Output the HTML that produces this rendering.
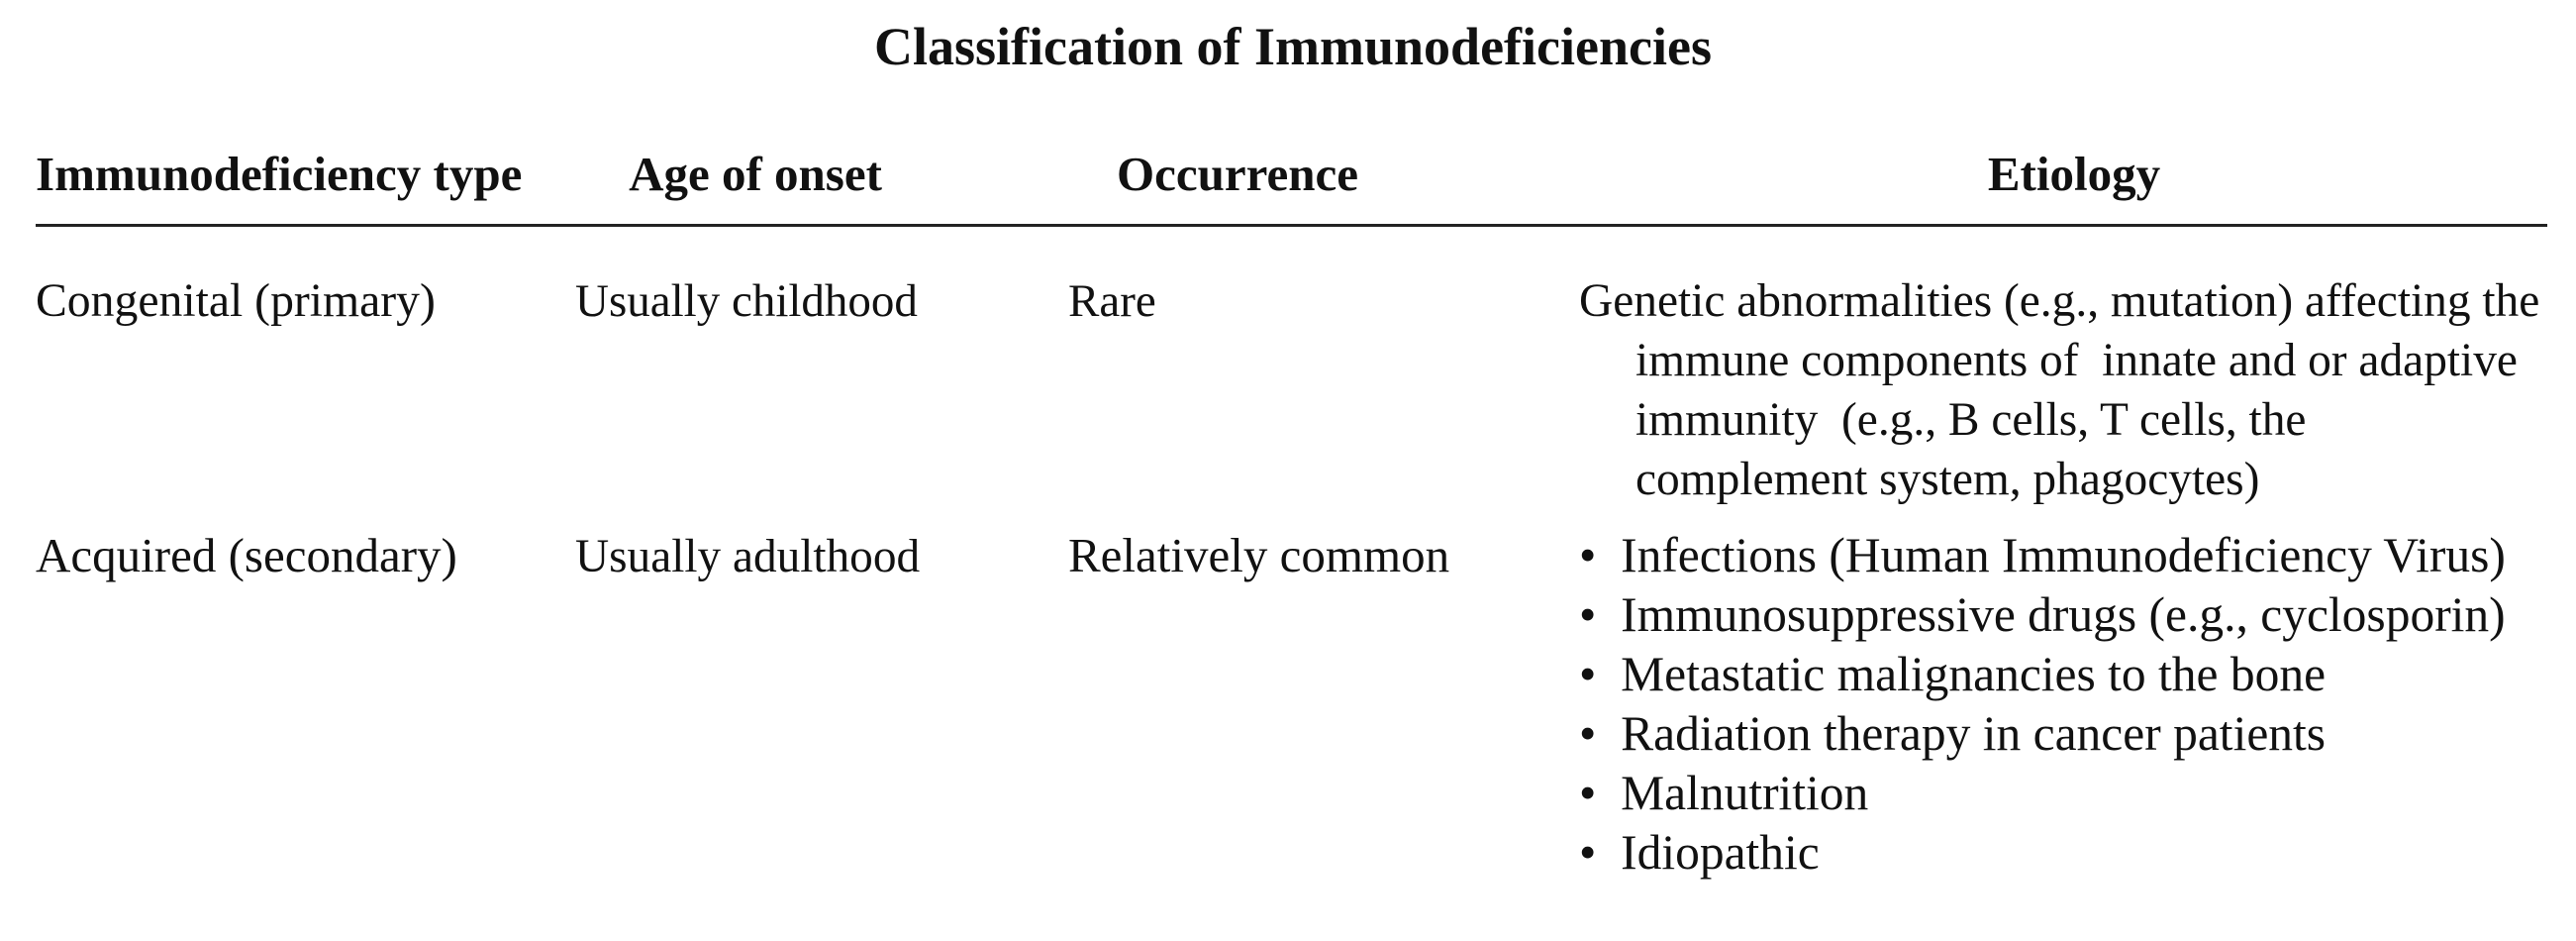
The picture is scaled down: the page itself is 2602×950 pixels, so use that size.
<!DOCTYPE html>
<html><head><meta charset="utf-8"><style>
body{margin:0;width:2602px;height:950px;background:#fff;position:relative;overflow:hidden;font-family:"Liberation Serif",serif;color:#111}
.t{position:absolute;font-size:47px;line-height:60px;white-space:nowrap}
.b{font-weight:bold;font-size:49px}
.r2{font-size:49px}
</style></head><body>
<div class="t b" style="left:0;width:2612px;text-align:center;top:17px;font-size:54px">Classification of Immunodeficiencies</div>
<div class="t b" style="left:36px;top:146px">Immunodeficiency type</div>
<div class="t b" style="left:563px;width:400px;text-align:center;top:146px">Age of onset</div>
<div class="t b" style="left:1050px;width:400px;text-align:center;top:146px">Occurrence</div>
<div class="t b" style="left:1795px;width:600px;text-align:center;top:146px">Etiology</div>
<div style="position:absolute;left:36px;width:2537px;top:226px;height:3px;background:#222"></div>

<div class="t" style="left:36px;top:274px;font-size:47.7px">Congenital (primary)</div>
<div class="t" style="left:581px;top:274px">Usually childhood</div>
<div class="t" style="left:1079px;top:274px">Rare</div>
<div class="t" style="left:1595px;top:274px;font-size:47.4px">Genetic abnormalities (e.g., mutation) affecting the<br><span style="padding-left:57px">immune components of&nbsp; innate and or adaptive</span><br><span style="padding-left:57px">immunity&nbsp; (e.g., B cells, T cells, the</span><br><span style="padding-left:57px">complement system, phagocytes)</span></div>

<div class="t r2" style="left:36px;top:531px">Acquired (secondary)</div>
<div class="t" style="left:581px;top:532px;font-size:47.3px">Usually adulthood</div>
<div class="t r2" style="left:1079px;top:531px">Relatively common</div>
<div class="t" style="left:1595px;top:531px;font-size:49.5px">
<div>•&nbsp; Infections (Human Immunodeficiency Virus)</div>
<div>•&nbsp; Immunosuppressive drugs (e.g., cyclosporin)</div>
<div>•&nbsp; Metastatic malignancies to the bone</div>
<div>•&nbsp; Radiation therapy in cancer patients</div>
<div>•&nbsp; Malnutrition</div>
<div>•&nbsp; Idiopathic</div>
</div>
</body></html>
